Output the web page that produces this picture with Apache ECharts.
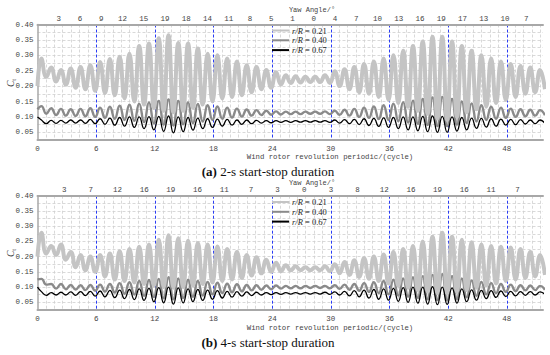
<!DOCTYPE html>
<html>
<head>
<meta charset="utf-8">
<script src="https://cdn.jsdelivr.net/npm/echarts@6/dist/echarts.min.js"></script>
<style>html,body{margin:0;padding:0;background:#fff}#c{width:550px;height:355px}</style>
</head>
<body>
<div id="c"></div>
<script>
// ---------- data ----------
const X_MAX = 51.7;                 // cycles shown
const xTickStep = 6;
const yawLabelsA = [3,6,9,12,15,19,18,14,11,8,5,1,0,4,7,10,13,16,19,17,13,10,7];
const yawLabelsB = [3,7,12,16,19,16,11,7,3,0,3,8,12,16,19,16,11,7];
const yawStepA = 2.173;             // cycles between yaw labels, (a)
const yawStepB = 2.728;             // cycles between yaw labels, (b)
const seriesNames = ['r/R = 0.21','r/R = 0.40','r/R = 0.67'];
const peakPhase = 0.4, troughPhase = 0.9;

// (a) 2-s start-stop
const startA = [0.20, 0.125, 0.10];
const peakA21 = [0.29,0.26,0.252,0.257,0.262,0.268,0.278,0.288,0.295,0.305,0.33,0.338,0.355,0.365,0.34,0.338,0.322,0.305,0.30,0.29,0.28,0.268,0.262,0.252,0.245,0.235,0.232,0.23,0.23,0.235,0.248,0.255,0.262,0.272,0.28,0.29,0.30,0.315,0.33,0.345,0.36,0.36,0.345,0.33,0.315,0.30,0.29,0.28,0.272,0.265,0.26,0.252];
const troughA21 = [0.23,0.215,0.205,0.195,0.19,0.185,0.178,0.17,0.16,0.15,0.14,0.13,0.12,0.115,0.12,0.13,0.14,0.15,0.16,0.165,0.17,0.18,0.19,0.195,0.205,0.21,0.212,0.213,0.213,0.21,0.20,0.19,0.18,0.175,0.165,0.155,0.145,0.133,0.12,0.11,0.095,0.09,0.10,0.115,0.125,0.133,0.145,0.155,0.165,0.175,0.18,0.19];
const peakA40 = [0.135,0.128,0.126,0.125,0.126,0.128,0.13,0.133,0.136,0.14,0.143,0.147,0.152,0.157,0.152,0.147,0.142,0.138,0.134,0.13,0.127,0.124,0.122,0.12,0.118,0.117,0.117,0.117,0.117,0.118,0.12,0.123,0.126,0.13,0.134,0.138,0.143,0.148,0.153,0.158,0.163,0.165,0.158,0.15,0.144,0.138,0.133,0.13,0.127,0.125,0.123,0.122];
const troughA40 = [0.11,0.106,0.104,0.103,0.102,0.10,0.097,0.094,0.09,0.087,0.083,0.079,0.075,0.072,0.076,0.08,0.085,0.09,0.094,0.098,0.101,0.104,0.106,0.107,0.108,0.109,0.109,0.11,0.11,0.109,0.107,0.104,0.10,0.097,0.093,0.09,0.086,0.082,0.078,0.074,0.07,0.07,0.075,0.08,0.085,0.09,0.094,0.097,0.10,0.102,0.104,0.105];
const peakA67 = [0.09,0.089,0.089,0.09,0.09,0.092,0.094,0.096,0.098,0.10,0.10,0.101,0.102,0.103,0.10,0.098,0.096,0.094,0.093,0.092,0.09,0.09,0.089,0.088,0.088,0.088,0.088,0.088,0.088,0.088,0.09,0.091,0.092,0.094,0.095,0.097,0.098,0.10,0.10,0.102,0.103,0.102,0.10,0.098,0.096,0.095,0.094,0.093,0.092,0.091,0.09,0.09];
const troughA67 = [0.078,0.079,0.08,0.08,0.079,0.078,0.076,0.073,0.07,0.066,0.062,0.058,0.053,0.048,0.052,0.057,0.062,0.066,0.07,0.073,0.076,0.078,0.08,0.081,0.082,0.082,0.083,0.083,0.083,0.082,0.08,0.078,0.075,0.072,0.069,0.066,0.062,0.058,0.055,0.052,0.05,0.05,0.054,0.058,0.063,0.067,0.07,0.073,0.075,0.077,0.078,0.079];

// (b) 4-s start-stop
const startB = [0.20, 0.125, 0.10];
const peakB21 = [0.278,0.235,0.24,0.215,0.205,0.20,0.205,0.21,0.218,0.225,0.232,0.24,0.255,0.27,0.26,0.252,0.245,0.24,0.233,0.225,0.215,0.205,0.198,0.19,0.18,0.172,0.168,0.165,0.165,0.168,0.175,0.182,0.188,0.195,0.20,0.207,0.215,0.225,0.235,0.25,0.265,0.278,0.265,0.255,0.247,0.24,0.235,0.232,0.23,0.225,0.215,0.205];
const troughB21 = [0.21,0.205,0.19,0.165,0.155,0.15,0.135,0.125,0.12,0.115,0.11,0.105,0.10,0.098,0.10,0.105,0.11,0.115,0.12,0.125,0.13,0.138,0.145,0.15,0.152,0.155,0.155,0.155,0.155,0.152,0.145,0.14,0.133,0.127,0.12,0.112,0.105,0.098,0.09,0.085,0.08,0.08,0.085,0.09,0.098,0.105,0.112,0.12,0.125,0.13,0.135,0.14];
const peakB40 = [0.127,0.11,0.11,0.107,0.106,0.107,0.108,0.11,0.113,0.116,0.12,0.123,0.127,0.132,0.128,0.124,0.12,0.117,0.114,0.111,0.109,0.107,0.106,0.105,0.105,0.104,0.104,0.104,0.104,0.104,0.106,0.108,0.11,0.113,0.116,0.12,0.124,0.128,0.132,0.136,0.14,0.142,0.136,0.128,0.122,0.117,0.113,0.11,0.108,0.106,0.105,0.104];
const troughB40 = [0.108,0.095,0.093,0.092,0.09,0.088,0.085,0.082,0.078,0.075,0.071,0.067,0.063,0.06,0.064,0.068,0.072,0.076,0.08,0.083,0.086,0.089,0.091,0.093,0.095,0.096,0.096,0.097,0.097,0.096,0.094,0.091,0.088,0.084,0.08,0.076,0.072,0.068,0.064,0.06,0.057,0.056,0.06,0.066,0.071,0.076,0.08,0.084,0.087,0.089,0.09,0.091];
const peakB67 = [0.085,0.082,0.083,0.084,0.085,0.086,0.087,0.089,0.09,0.092,0.094,0.096,0.098,0.10,0.097,0.094,0.092,0.09,0.088,0.086,0.085,0.084,0.083,0.082,0.082,0.082,0.082,0.082,0.082,0.083,0.084,0.086,0.088,0.09,0.092,0.094,0.096,0.098,0.10,0.10,0.101,0.10,0.097,0.094,0.091,0.089,0.088,0.087,0.086,0.085,0.085,0.084];
const troughB67 = [0.073,0.074,0.074,0.073,0.072,0.07,0.068,0.065,0.062,0.059,0.056,0.052,0.048,0.044,0.048,0.052,0.056,0.06,0.064,0.067,0.07,0.072,0.074,0.075,0.076,0.077,0.077,0.077,0.077,0.076,0.074,0.071,0.068,0.064,0.06,0.057,0.053,0.05,0.047,0.044,0.042,0.043,0.047,0.052,0.057,0.062,0.066,0.069,0.071,0.073,0.074,0.075];

// ---------- build ----------
function wave(start, peaks, troughs) {
  const pts = [[0, start]];
  for (let k = 0; k < peaks.length; k++) {
    pts.push([k + peakPhase, peaks[k]]);
    pts.push([k + troughPhase, troughs[k]]);
  }
  return pts;
}

const MONO = '"Liberation Mono", "DejaVu Sans Mono", monospace';
const SERIF = '"Liberation Serif", "DejaVu Serif", serif';
const AXIS_GRAY = '#a8a8a8';
const GRID_GRAY = '#cfcfcf';
const BLUE = '#2a3cf5';
const styles = [
  {color:'#c4c4c4', width:4, z:3},
  {color:'#8a8a8a', width:2.4, z:2},
  {color:'#000000', width:1.3, z:4}
];

function bottomAxis(gridIndex) {
  return {
    type:'value', gridIndex, position:'bottom', min:0, max:X_MAX, interval:xTickStep,
    axisLine:{show:true, onZero:false, lineStyle:{color:AXIS_GRAY, width:2}},
    axisTick:{show:false},
    axisLabel:{fontFamily:MONO, fontSize:7.5, color:'#444', margin:5, showMaxLabel:false},
    splitLine:{show:true, showMinLine:false, showMaxLine:false, lineStyle:{color:BLUE, type:[3,2], width:1}},
    minorTick:{show:false, splitNumber:7},
    minorSplitLine:{show:true, lineStyle:{color:GRID_GRAY, type:[3,2], width:0.8}}
  };
}
function topAxis(gridIndex, labels, step) {
  return {
    type:'value', gridIndex, position:'top', min:0, max:X_MAX/step, interval:1,
    axisLine:{show:true, onZero:false, lineStyle:{color:AXIS_GRAY, width:2}},
    axisTick:{show:false},
    axisLabel:{fontFamily:MONO, fontSize:7.5, color:'#444', margin:1.5, showMinLabel:false, showMaxLabel:false,
      formatter: v => { const i = Math.round(v); return (i >= 1 && i <= labels.length) ? String(labels[i-1]) : ''; }},
    splitLine:{show:false}
  };
}
function leftAxis(gridIndex) {
  return {
    type:'value', gridIndex, min:0.025, max:0.40, interval:0.025,
    axisLine:{show:true, lineStyle:{color:AXIS_GRAY, width:1.5}},
    axisTick:{show:false},
    axisLabel:{fontFamily:MONO, fontSize:7.5, color:'#444', margin:4,
      formatter: v => (Math.round(v/0.025) % 2 === 0) ? v.toFixed(2) : ''},
    splitLine:{show:true, lineStyle:{color:GRID_GRAY, type:[3,2], width:0.8}}
  };
}
function makeSeries(xIdx, yIdx, starts, data) {
  return data.map((d, i) => ({
    name: seriesNames[i], type:'line', xAxisIndex:xIdx, yAxisIndex:yIdx,
    data: wave(starts[i], d[0], d[1]), smooth:0.5, symbol:'none', showSymbol:false,
    lineStyle:{color:styles[i].color, width:styles[i].width},
    itemStyle:{color:styles[i].color}, z:styles[i].z, animation:false
  }));
}
function legendAt(top) {
  return {
    orient:'vertical', left:271, top, itemWidth:17, itemHeight:7, itemGap:0.8, padding:0,
    data: seriesNames, selectedMode:false,
    itemStyle:{opacity:0},
    textStyle:{fontFamily:SERIF, fontSize:8.5, color:'#222', padding:[0,0,0,-2],
      rich:{i:{fontFamily:SERIF, fontStyle:'italic', fontSize:8.5, color:'#222'}}},
    formatter: n => '{i|r/R} = ' + n.split('= ')[1]
  };
}
function ctLabel(y) {
  return {type:'text', x:11, y, rotation:Math.PI/2,
    style:{text:'{c|C}{s|t}', align:'center', verticalAlign:'middle',
      rich:{c:{fontFamily:SERIF, fontStyle:'italic', fontSize:9.5, fill:'#333'},
            s:{fontFamily:SERIF, fontSize:6, fill:'#333', padding:[5,0,0,0]}}}};
}

const chart = echarts.init(document.getElementById('c'), null, {renderer:'svg'});
chart.setOption({
  backgroundColor:'#fff',
  animation:false,
  grid:[
    {left:37.5, right:7, top:24.5, height:115.5, containLabel:false, outerBoundsMode:'none'},
    {left:37.5, right:7, top:195.7, height:114.2, containLabel:false, outerBoundsMode:'none'}
  ],
  xAxis:[
    bottomAxis(0), topAxis(0, yawLabelsA, yawStepA),
    bottomAxis(1), topAxis(1, yawLabelsB, yawStepB)
  ],
  yAxis:[leftAxis(0), leftAxis(1)],
  legend:[legendAt(26), legendAt(197.5)],
  series:[
    ...makeSeries(0, 0, startA, [[peakA21,troughA21],[peakA40,troughA40],[peakA67,troughA67]]),
    ...makeSeries(2, 1, startB, [[peakB21,troughB21],[peakB40,troughB40],[peakB67,troughB67]])
  ],
  graphic:[
    ctLabel(83), ctLabel(253),
    {type:'text', x:312, y:9.5, style:{text:'Yaw Angle/°', font:'7px '+MONO, fill:'#444', align:'center', verticalAlign:'middle'}},
    {type:'text', x:312, y:183, style:{text:'Yaw Angle/°', font:'7px '+MONO, fill:'#444', align:'center', verticalAlign:'middle'}},
    {type:'text', x:330, y:157, style:{text:'Wind rotor revolution periodic/(cycle)', font:'7.3px '+MONO, fill:'#444', align:'center', verticalAlign:'middle'}},
    {type:'text', x:330, y:327.5, style:{text:'Wind rotor revolution periodic/(cycle)', font:'7.3px '+MONO, fill:'#444', align:'center', verticalAlign:'middle'}},
    {type:'text', x:268, y:171.5, style:{text:'{b|(a)} 2-s start-stop duration', font:'13px '+SERIF, fill:'#111', align:'center', verticalAlign:'middle',
      rich:{b:{fontWeight:'bold', fontSize:13, fontFamily:SERIF, fill:'#111'}}}},
    {type:'text', x:268, y:342, style:{text:'{b|(b)} 4-s start-stop duration', font:'13px '+SERIF, fill:'#111', align:'center', verticalAlign:'middle',
      rich:{b:{fontWeight:'bold', fontSize:13, fontFamily:SERIF, fill:'#111'}}}}
  ]
});
</script>
</body>
</html>
